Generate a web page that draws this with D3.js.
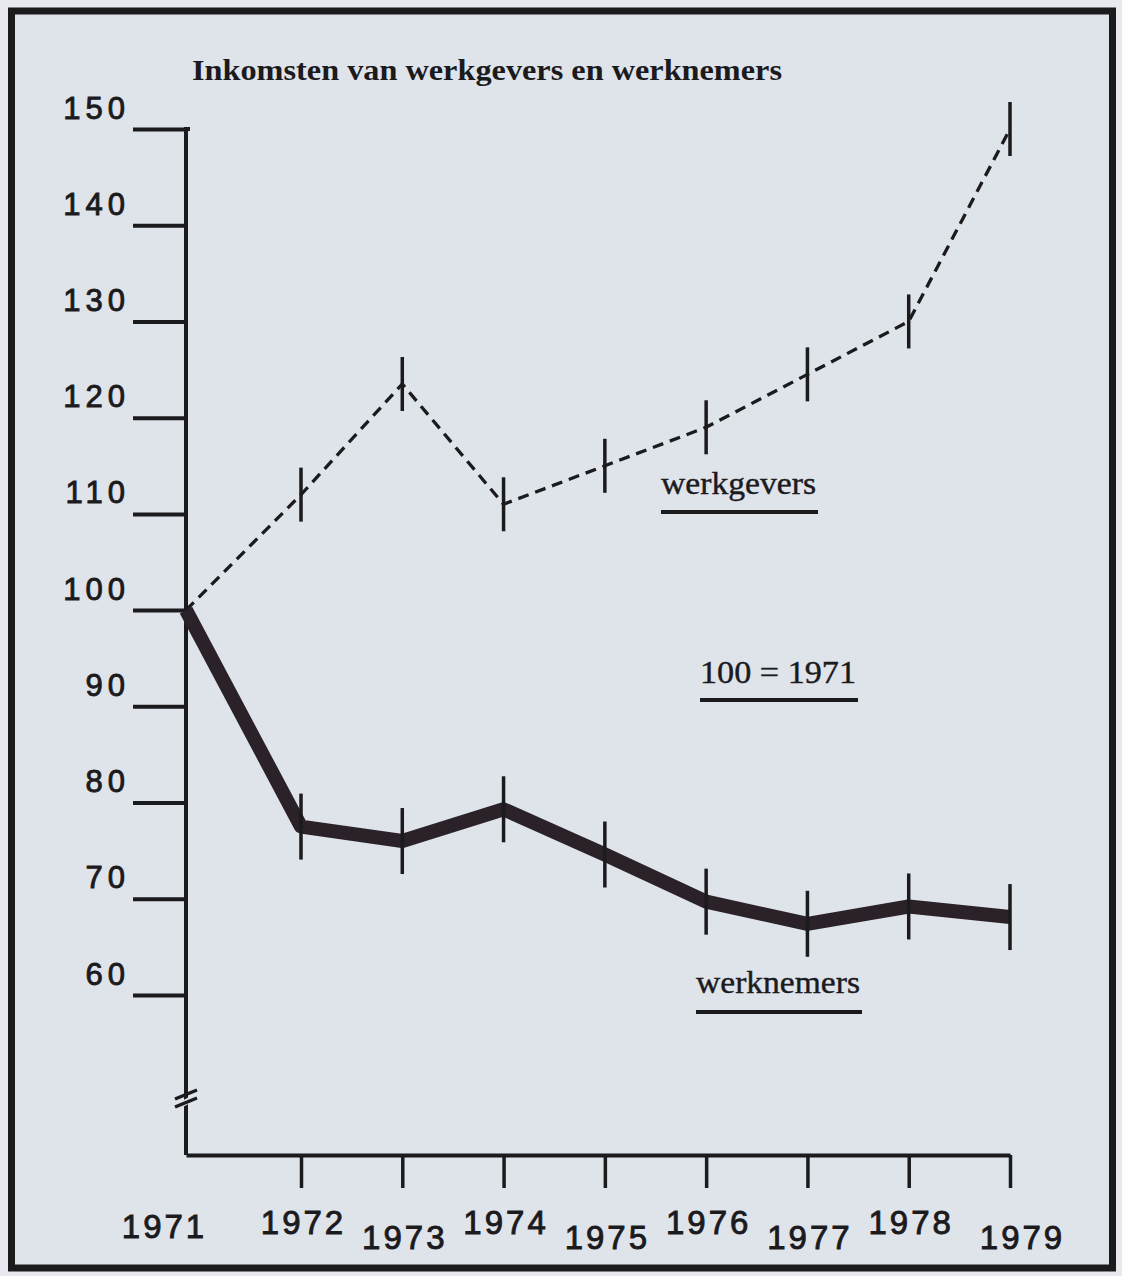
<!DOCTYPE html>
<html>
<head>
<meta charset="utf-8">
<script src="https://cdn.jsdelivr.net/npm/d3@7"></script>
<style>
  body { margin: 0; background: #e7e9ee; }
  svg { display: block; }
</style>
</head>
<body>
<svg class="chart" width="1122" height="1276"></svg>
<script>
const YEARS = [1971, 1972, 1973, 1974, 1975, 1976, 1977, 1978, 1979];
const WERKGEVERS = [100, 112, 123.5, 111, 115, 119, 124.5, 130, 150];
const WERKNEMERS = [100, 77.5, 76, 79.3, 74.6, 69.7, 67.4, 69.2, 68.1];
const Y_TICKS = [60, 70, 80, 90, 100, 110, 120, 130, 140, 150];

const TITLE = "Inkomsten van werkgevers en werknemers";
const INK = "#1b1a1d";
const BG = "#dfe3ea";

let svg = d3.select(".chart");

// frame
svg.append("rect")
  .attr("x", 11.5).attr("y", 11)
  .attr("width", 1101).attr("height", 1257)
  .attr("fill", BG)
  .attr("stroke", INK)
  .attr("stroke-width", 7);

// 1971 sits on the y axis, the rest are evenly spaced
let x = d3.scaleLinear()
  .domain([1971, 1972, 1979])
  .range([186, 301, 1010]);

let y = d3.scaleLinear()
  .domain([60, 150])
  .range([995, 129]);

let baseY = 1155;

// y axis
let yAxis = svg.append("g")
  .attr("transform", `translate(${x(1971)},0)`)
  .call(d3.axisLeft(y).tickValues(Y_TICKS).tickSize(53).tickSizeOuter(0).tickPadding(0));

yAxis.select(".domain").remove();
yAxis.selectAll(".tick line").attr("stroke", INK).attr("stroke-width", 4);
yAxis.selectAll(".tick text")
  .attr("x", -56)
  .attr("dy", -11)
  .attr("fill", INK)
  .attr("stroke", INK)
  .attr("stroke-width", 0.9)
  .style("font-family", "'Liberation Sans', Arial, sans-serif")
  .style("font-size", "31px")
  .style("letter-spacing", "5px");

// vertical axis line running down to the x axis
svg.append("line")
  .attr("x1", x(1971)).attr("x2", x(1971))
  .attr("y1", y(150) - 2).attr("y2", baseY)
  .attr("stroke", INK).attr("stroke-width", 4);
svg.append("line")
  .attr("x1", x(1971) - 2).attr("x2", x(1971) + 4)
  .attr("y1", y(150)).attr("y2", y(150))
  .attr("stroke", INK).attr("stroke-width", 4);

// axis break
let bx = x(1971);
svg.append("line")
  .attr("x1", bx - 9).attr("y1", 1107).attr("x2", bx + 9).attr("y2", 1097)
  .attr("stroke", BG).attr("stroke-width", 6);
[-4, 4].forEach(d => {
  svg.append("line")
    .attr("x1", bx - 11).attr("y1", 1103 + d)
    .attr("x2", bx + 11).attr("y2", 1094 + d)
    .attr("stroke", INK).attr("stroke-width", 3.5);
});

// x axis
let xAxis = svg.append("g")
  .attr("transform", `translate(0,${baseY})`)
  .call(d3.axisBottom(x).tickValues(YEARS).tickFormat(d3.format("d")).tickSize(33).tickSizeOuter(0));

xAxis.select(".domain").attr("stroke", INK).attr("stroke-width", 4);
xAxis.selectAll(".tick line")
  .attr("stroke", INK).attr("stroke-width", 3.5)
  .attr("display", d => d === 1971 ? "none" : null);
xAxis.selectAll(".tick text")
  .attr("y", (d, i) => i === 0 ? 83 : (i % 2 === 0 ? 94 : 79))
  .attr("dy", 0)
  .attr("dx", (d, i) => i === 0 ? -22 : (i === YEARS.length - 1 ? 12 : 2))
  .attr("fill", INK)
  .attr("stroke", INK)
  .attr("stroke-width", 0.9)
  .style("font-family", "'Liberation Sans', Arial, sans-serif")
  .style("font-size", "33px")
  .style("letter-spacing", "3px");

// werkgevers: dashed line
let lineGevers = d3.line()
  .x((d, i) => x(YEARS[i]))
  .y(d => y(d));

svg.append("path")
  .datum(WERKGEVERS)
  .attr("d", lineGevers)
  .attr("fill", "none")
  .attr("stroke", INK)
  .attr("stroke-width", 3.3)
  .attr("stroke-dasharray", "11 7");

svg.append("g").selectAll("line")
  .data(WERKGEVERS.slice(1))
  .join("line")
  .attr("x1", (d, i) => x(YEARS[i + 1]))
  .attr("x2", (d, i) => x(YEARS[i + 1]))
  .attr("y1", d => y(d) - 27)
  .attr("y2", d => y(d) + 27)
  .attr("stroke", INK)
  .attr("stroke-width", 3.5);

// werknemers: thick line
let lineNemers = d3.line()
  .x((d, i) => x(YEARS[i]))
  .y(d => y(d));

svg.append("path")
  .datum(WERKNEMERS)
  .attr("d", lineNemers)
  .attr("fill", "none")
  .attr("stroke", "#2a2228")
  .attr("stroke-width", 14)
  .attr("stroke-linejoin", "round");

svg.append("g").selectAll("line")
  .data(WERKNEMERS.slice(1))
  .join("line")
  .attr("x1", (d, i) => x(YEARS[i + 1]))
  .attr("x2", (d, i) => x(YEARS[i + 1]))
  .attr("y1", d => y(d) - 33)
  .attr("y2", d => y(d) + 33)
  .attr("stroke", INK)
  .attr("stroke-width", 3.5);

// title
svg.append("text")
  .attr("x", 192).attr("y", 80)
  .attr("fill", INK)
  .attr("textLength", 590)
  .attr("lengthAdjust", "spacingAndGlyphs")
  .style("font-family", "'Liberation Serif', 'Times New Roman', serif")
  .style("font-weight", "bold")
  .style("font-size", "29px")
  .text(TITLE);

// labels with underline
const LABELS = [
  { text: "werkgevers", x: 661, y: 494, x2: 818, uy: 512 },
  { text: "100 = 1971", x: 700, y: 683, x2: 858, uy: 700 },
  { text: "werknemers", x: 696, y: 993, x2: 862, uy: 1012 }
];

LABELS.forEach(l => {
  svg.append("text")
    .attr("x", l.x).attr("y", l.y)
    .attr("fill", INK)
    .attr("stroke", INK)
    .attr("stroke-width", 0.4)
    .attr("textLength", l.x2 - l.x - 2)
    .attr("lengthAdjust", "spacingAndGlyphs")
    .style("font-family", "'Liberation Serif', 'Times New Roman', serif")
    .style("font-size", "31px")
    .text(l.text);
  svg.append("line")
    .attr("x1", l.x).attr("x2", l.x2)
    .attr("y1", l.uy).attr("y2", l.uy)
    .attr("stroke", INK).attr("stroke-width", 4);
});
</script>
</body>
</html>
